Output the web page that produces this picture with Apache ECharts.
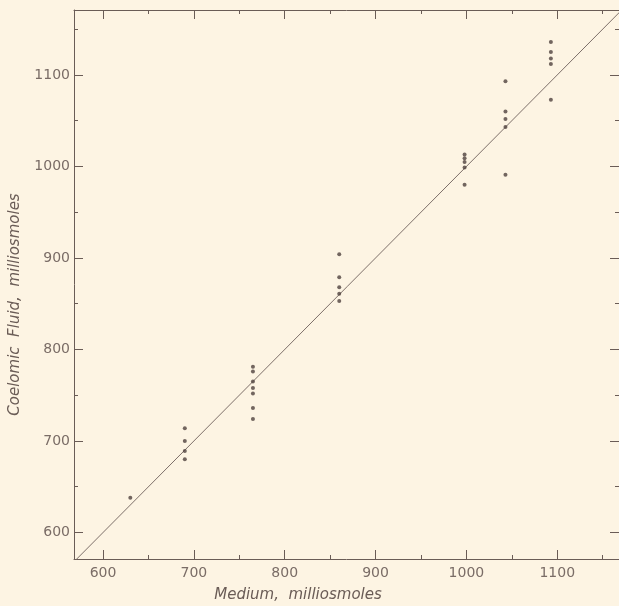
<!DOCTYPE html>
<html>
<head>
<meta charset="utf-8">
<script src="https://cdn.jsdelivr.net/npm/echarts@6/dist/echarts.min.js"></script>
<style>
  html, body { margin: 0; padding: 0; background: #fdf4e3; }
  #chart { width: 619px; height: 606px; }
</style>
</head>
<body>
<div id="chart"></div>
<script>
// medium vs coelomic fluid osmolarity (milliosmoles)
const mediumValues = [
  630,
  690, 690, 690, 690,
  765, 765, 765, 765, 765, 765, 765,
  860, 860, 860, 860, 860,
  998, 998, 998, 998, 998,
  1043, 1043, 1043, 1043, 1043,
  1093, 1093, 1093, 1093, 1093
];
const coelomicValues = [
  638,
  714, 700, 689, 680,
  781, 776, 765, 758, 752, 736, 724,
  904, 879, 868, 861, 853,
  1013, 1009, 1005, 999, 980,
  1093, 1060, 1052, 1043, 991,
  1136, 1125, 1118, 1112, 1073
];
const xRange = [568, 1168];
const yRange = [571, 1171];
const identityLine = [568, 1171]; // y = x, clipped by the grid
const tickLabels = [600, 700, 800, 900, 1000, 1100];
const minorTicks = [650, 750, 850, 950, 1050, 1150];

const ink = '#6a5c56';
const chart = echarts.init(document.getElementById('chart'));

// builds one axis; major ticks + labels or just minor ticks
function makeAxis(pos, kind, showLine, range) {
  const isMajor = kind === 'major';
  const withLabels = isMajor && (pos === 'bottom' || pos === 'left');
  return {
    type: 'value',
    position: pos,
    min: range[0],
    max: range[1],
    splitLine: { show: false },
    axisLine: { show: showLine, onZero: false, lineStyle: { color: ink, width: 1 } },
    axisTick: {
      show: true,
      inside: true,
      length: isMajor ? 9 : 4,
      customValues: isMajor ? tickLabels : minorTicks,
      lineStyle: { color: ink, width: 1 }
    },
    axisLabel: {
      show: withLabels,
      customValues: tickLabels,
      formatter: v => String(v),
      color: '#7a6c66',
      fontFamily: 'DejaVu Sans',
      fontSize: 14,
      margin: pos === 'left' ? 4 : 7
    }
  };
}

const xAxes = [
  makeAxis('bottom', 'major', true, xRange),
  makeAxis('bottom', 'minor', false, xRange),
  makeAxis('top', 'major', true, xRange),
  makeAxis('top', 'minor', false, xRange)
];
xAxes[0].name = 'Medium,  milliosmoles';
xAxes[0].nameLocation = 'middle';
xAxes[0].nameGap = 29;
xAxes[0].nameTextStyle = {
  color: ink, fontFamily: 'DejaVu Sans', fontStyle: 'italic', fontSize: 15,
  padding: [0, 97, 0, 0]
};

const yAxes = [
  makeAxis('left', 'major', true, yRange),
  makeAxis('left', 'minor', false, yRange),
  makeAxis('right', 'major', true, yRange),
  makeAxis('right', 'minor', false, yRange)
];
yAxes[0].name = 'Coelomic  Fluid,  milliosmoles';
yAxes[0].nameLocation = 'middle';
yAxes[0].nameGap = 51;
yAxes[0].nameTextStyle = {
  color: ink, fontFamily: 'DejaVu Sans', fontStyle: 'italic', fontSize: 15,
  padding: [0, 40, 0, 0]
};

const option = {
  backgroundColor: '#fdf4e3',
  animation: false,
  grid: { left: 74, top: 10, width: 545, height: 549, outerBoundsMode: 'none' },
  xAxis: xAxes,
  yAxis: yAxes,
  series: [
    {
      type: 'line',
      data: identityLine.map(v => [v, v]),
      symbol: 'none',
      clip: true,
      lineStyle: { color: '#7d6f69', width: 1 },
      z: 1
    },
    {
      type: 'scatter',
      data: mediumValues.map((m, i) => [m, coelomicValues[i]]),
      symbolSize: 4,
      itemStyle: { color: '#4f413d' },
      z: 2
    }
  ]
};

chart.setOption(option);
</script>
</body>
</html>
